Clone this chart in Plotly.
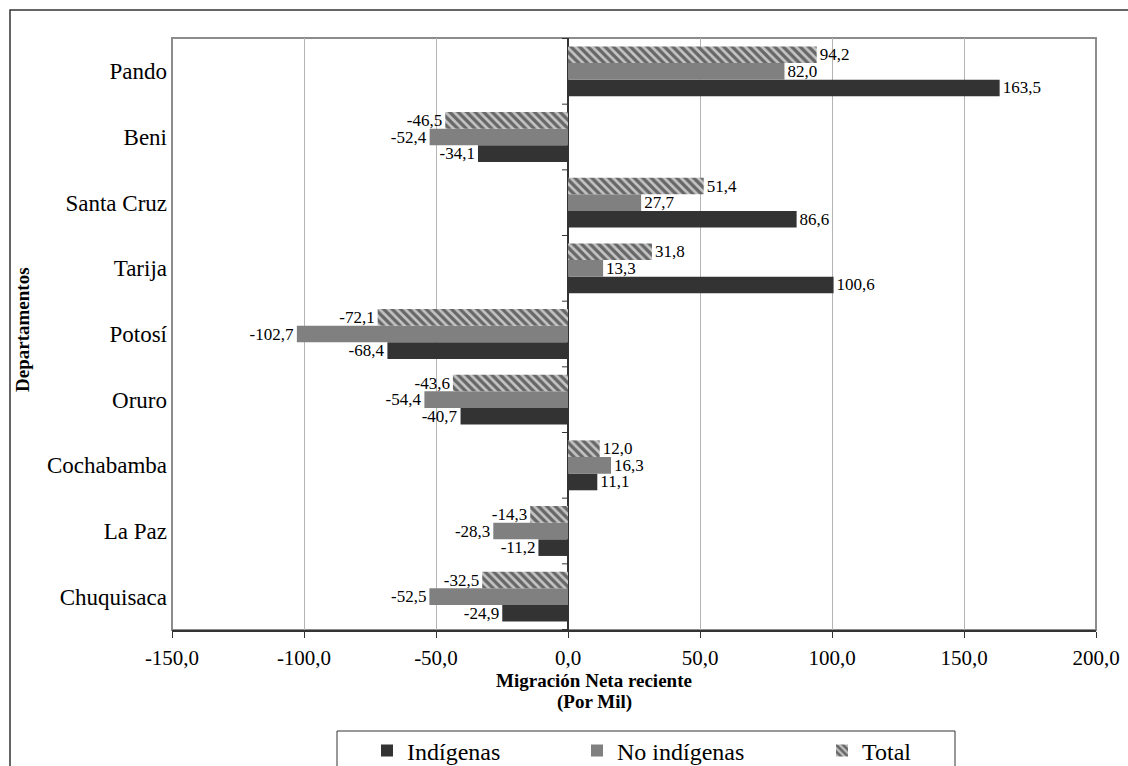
import plotly.graph_objects as go

# Departamentos, bottom to top
departamentos = ["Chuquisaca", "La Paz", "Cochabamba", "Oruro", "Potosí",
                 "Tarija", "Santa Cruz", "Beni", "Pando"]

# Migración neta reciente (por mil)
indigenas = [-24.9, -11.2, 11.1, -40.7, -68.4, 100.6, 86.6, -34.1, 163.5]
no_indigenas = [-52.5, -28.3, 16.3, -54.4, -102.7, 13.3, 27.7, -52.4, 82.0]
total = [-32.5, -14.3, 12.0, -43.6, -72.1, 31.8, 51.4, -46.5, 94.2]

x_ticks = [-150, -100, -50, 0, 50, 100, 150, 200]
x_tick_labels = ["-150,0", "-100,0", "-50,0", "0,0", "50,0", "100,0", "150,0", "200,0"]

FONT = "Times New Roman, Liberation Serif, serif"

# plot area in pixels
L, R, T, B = 172, 1096, 38, 630
W, H = R - L, B - T


def px_x(p):
    return (p - L) / W


def px_y(p):
    return (B - p) / H


def fmt(v):
    return f"{v:.1f}".replace(".", ",")


fig = go.Figure()

series = [
    ("Indígenas", indigenas, dict(color="#333333"), "legend"),
    ("No indígenas", no_indigenas, dict(color="#808080"), "legend2"),
    ("Total", total, dict(color="#c4c4c4",
                          pattern=dict(shape="\\", fgcolor="#0a0a0a",
                                       bgcolor="#c4c4c4", size=6,
                                       solidity=0.55)), "legend3"),
]

for name, vals, marker, leg in series:
    fig.add_trace(go.Bar(
        y=departamentos, x=vals, name=name, orientation="h",
        marker=dict(line=dict(width=0), **marker),
        text=[fmt(v) for v in vals], textposition="outside",
        textfont=dict(family=FONT, size=17, color="#000000"),
        constraintext="none", cliponaxis=False,
        legend=leg,
    ))

# short tick marks on the zero line between departamentos
shapes = []
for i in range(len(departamentos) + 1):
    shapes.append(dict(type="line", xref="x", yref="y", xsizemode="pixel",
                       xanchor=0, x0=-6, x1=0, y0=i - 0.5, y1=i - 0.5,
                       line=dict(color="#333333", width=1)))

# plot-area frame
shapes.append(dict(type="rect", xref="paper", yref="paper", x0=0, x1=1, y0=0, y1=1,
                   line=dict(color="#8c8c8c", width=2), layer="below"))
# outer chart frame
shapes.append(dict(type="rect", xref="paper", yref="paper",
                   x0=px_x(10), x1=px_x(1160), y0=px_y(10), y1=px_y(800),
                   line=dict(color="#333333", width=1.5)))
# legend frame
shapes.append(dict(type="rect", xref="paper", yref="paper",
                   x0=px_x(337), x1=px_x(955), y0=px_y(731), y1=px_y(800),
                   line=dict(color="#333333", width=1)))

leg_common = dict(orientation="h", yanchor="middle", xanchor="left",
                  bgcolor="rgba(0,0,0,0)", borderwidth=0,
                  font=dict(family=FONT, size=24, color="#000000"))
leg_y = px_y(751)

fig.update_layout(
    width=1128, height=766,
    margin=dict(l=L, r=1128 - R, t=T, b=766 - B, autoexpand=False),
    paper_bgcolor="white", plot_bgcolor="white",
    barmode="group", bargap=0.24, bargroupgap=0,
    font=dict(family=FONT, color="#000000"),
    shapes=shapes,
    showlegend=True,
    legend=dict(x=px_x(367), y=leg_y, **leg_common),
    legend2=dict(x=px_x(577), y=leg_y, **leg_common),
    legend3=dict(x=px_x(822), y=leg_y, **leg_common),
    xaxis=dict(range=[-150, 200], tickvals=x_ticks, ticktext=x_tick_labels,
               showgrid=True, gridcolor="#b4b4b4", gridwidth=1,
               zeroline=True, zerolinecolor="#333333", zerolinewidth=1.5,
               showline=True, linecolor="#333333", linewidth=2,
               ticks="outside", ticklen=6, tickcolor="#333333",
               ticklabelstandoff=2,
               tickfont=dict(family=FONT, size=21, color="#000000")),
    yaxis=dict(categoryorder="array", categoryarray=departamentos,
               showgrid=False, zeroline=False, showline=False, ticks="",
               tickfont=dict(family=FONT, size=23, color="#000000"),
               ticklabelstandoff=4),
    annotations=[
        dict(text="<b>Migración Neta reciente</b>", xref="paper", yref="paper",
             x=px_x(594), y=px_y(680), showarrow=False,
             font=dict(family=FONT, size=19), xanchor="center", yanchor="middle"),
        dict(text="<b>(Por Mil)</b>", xref="paper", yref="paper",
             x=px_x(594), y=px_y(702), showarrow=False,
             font=dict(family=FONT, size=19), xanchor="center", yanchor="middle"),
        dict(text="<b>Departamentos</b>", xref="paper", yref="paper",
             x=px_x(22), y=px_y(330), showarrow=False, textangle=-90,
             font=dict(family=FONT, size=19), xanchor="center", yanchor="middle"),
    ],
)

fig.write_html("out.html")
